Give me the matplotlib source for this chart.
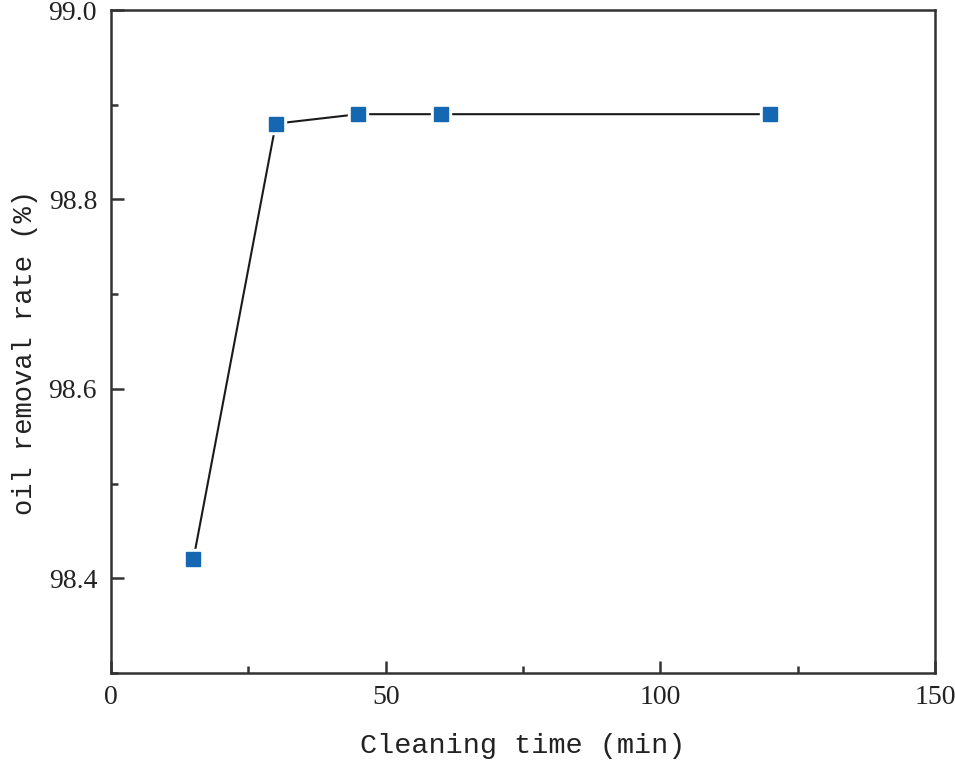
import matplotlib
matplotlib.use("Agg")
import matplotlib.pyplot as plt
from matplotlib.ticker import MultipleLocator

time_min = [15, 30, 45, 60, 120]
removal_rate = [98.42, 98.88, 98.89, 98.89, 98.89]
x_ticks = [0, 50, 100, 150]
y_ticks = [98.4, 98.6, 98.8, 99.0]

fig = plt.figure(figsize=(9.55, 7.65), dpi=100)
ax = fig.add_axes([111/955, 1-673/765, (935-111)/955, (673-10)/765])

ax.plot(time_min, removal_rate, color='#1a1a1a', lw=1.5, zorder=2)
ax.plot(time_min, removal_rate, ls='none', marker='s', ms=15, color='white', zorder=3)
ax.plot(time_min, removal_rate, ls='none', marker='s', ms=10.5, color='#1467b0', zorder=4)

ax.set_xlim(0, 150)
ax.set_ylim(98.3, 99.0)
ax.xaxis.set_minor_locator(MultipleLocator(25))
ax.yaxis.set_minor_locator(MultipleLocator(0.1))

for s in ax.spines.values():
    s.set_linewidth(1.8)
    s.set_color('#333333')

ax.tick_params(which='both', direction='in', top=False, right=False, color='#333333', width=1.8)
ax.tick_params(which='major', length=9)
ax.tick_params(axis='y', which='major', pad=10)
ax.tick_params(axis='x', which='major', pad=9)
ax.tick_params(which='minor', length=5)

tick_font = dict(fontfamily='Liberation Serif', fontsize=20, color='#222222')
ax.set_xticks(x_ticks)
ax.set_yticks(y_ticks)
ax.set_xticklabels([str(v) for v in x_ticks], **tick_font)
ax.set_yticklabels([f"{v:.1f}" for v in y_ticks], **tick_font)

ax.set_xlabel('Cleaning time (min)', fontfamily='Liberation Mono', fontsize=20.5, labelpad=16, color='#222222')
ax.set_ylabel('oil removal rate (%)', fontfamily='Liberation Mono', fontsize=19.5, color='#222222')
ax.yaxis.set_label_coords(-0.089, 0.484)

fig.savefig('out.png', dpi=100)
